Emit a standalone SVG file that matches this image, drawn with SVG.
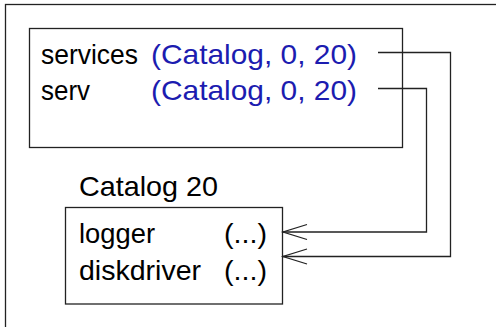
<svg xmlns="http://www.w3.org/2000/svg" width="496" height="327" viewBox="0 0 496 327">
<style>
.box{fill:none;stroke:#222;stroke-width:1.3}
.t{font-family:"Liberation Sans",Arial,sans-serif;font-size:28px;fill:#000}
.b{fill:#1c1cb0}
.c{fill:none;stroke:#222;stroke-width:1.3}
</style>
<rect width="496" height="327" fill="#fff"/>
<rect x="5.5" y="4.5" width="520" height="360" class="box"/>
<g id="node-vars">
<rect x="29.5" y="28.5" width="373" height="119" class="box"/>
<text class="t" x="41" y="64" textLength="97" lengthAdjust="spacingAndGlyphs">services</text>
<text class="t b" x="151" y="64" textLength="206" lengthAdjust="spacingAndGlyphs">(Catalog, 0, 20)</text>
<text class="t" x="41" y="100" textLength="49" lengthAdjust="spacingAndGlyphs">serv</text>
<text class="t b" x="151" y="100" textLength="206" lengthAdjust="spacingAndGlyphs">(Catalog, 0, 20)</text>
</g>
<g id="node-catalog">
<text class="t" x="79" y="196" textLength="139" lengthAdjust="spacingAndGlyphs">Catalog 20</text>
<rect x="65.5" y="207.5" width="217" height="96.5" class="box"/>
<text class="t" x="79" y="243" textLength="76" lengthAdjust="spacingAndGlyphs">logger</text>
<text class="t" x="224" y="243" textLength="43" lengthAdjust="spacingAndGlyphs">(...)</text>
<text class="t" x="79" y="280" textLength="122" lengthAdjust="spacingAndGlyphs">diskdriver</text>
<text class="t" x="224" y="280" textLength="43" lengthAdjust="spacingAndGlyphs">(...)</text>
</g>
<g id="connectors">
<polyline class="c" points="378,52.5 450.5,52.5 450.5,256.5 283,256.5"/>
<polyline class="c" points="378,88.5 426.5,88.5 426.5,232 283,232"/>
<polyline class="c" points="307,224.5 283,232 307,239.5"/>
<polyline class="c" points="307,249 283,256.5 307,264"/>
</g>
</svg>
